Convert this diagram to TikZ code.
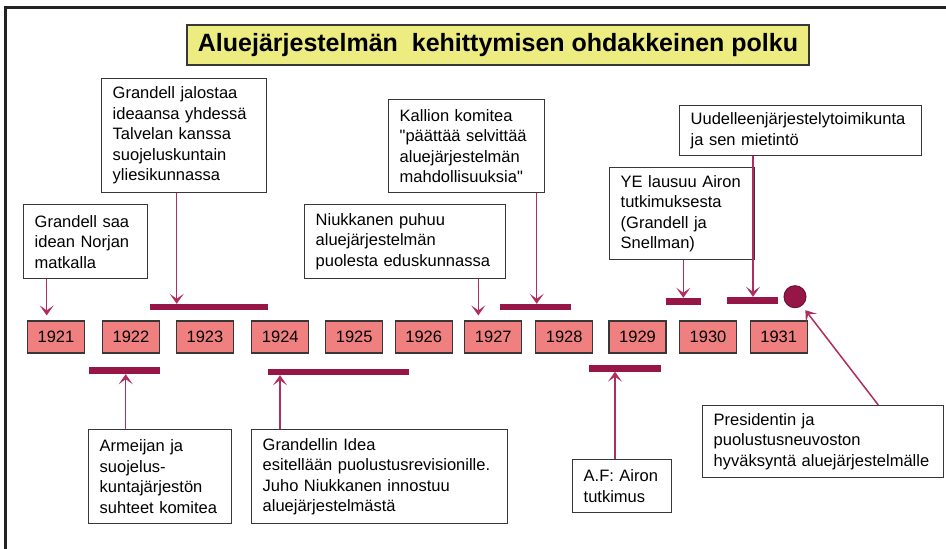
\documentclass[tikz,border=0pt]{standalone}
\usepackage{fontspec}
\setmainfont{Liberation Sans}
\usetikzlibrary{arrows.meta}
\definecolor{barc}{RGB}{150,22,72}
\definecolor{arrc}{RGB}{175,45,95}
\definecolor{yearc}{RGB}{240,128,128}
\definecolor{titlec}{RGB}{236,236,128}
\definecolor{edgec}{RGB}{55,55,55}
\definecolor{framec}{RGB}{35,35,35}
\begin{document}
\begin{tikzpicture}[x=1pt,y=-1pt,
 evbox/.style={draw=edgec, line width=1.4pt, fill=white, anchor=north west, align=left, inner xsep=11pt, inner ysep=3pt, font=\fontsize{16.5}{20.5}\selectfont},
 yearbox/.style={draw=edgec, line width=1.2pt, fill=yearc, minimum width=57pt, minimum height=32pt, inner sep=0pt, font=\fontsize{16.5}{19}\selectfont},
 barn/.style={fill=barc, draw=none, inner sep=0pt, minimum height=7pt},
 arr/.style={draw=arrc, line width=1.5pt, -{Stealth[length=10pt,width=14pt,inset=5pt]}},
]
\useasboundingbox (0,0) rectangle (946,549);
\draw[line width=3pt, color=framec] (5,549) -- (5,7.5) -- (946,7.5);

% title
\node[draw=edgec, line width=1.5pt, fill=titlec, minimum width=622pt, minimum height=40pt, inner sep=0pt,
      font=\bfseries\fontsize{25}{28}\selectfont] (title) at (498,45)
      {Aluejärjestelmän\ \ kehittymisen ohdakkeinen polku};

% years
\foreach \yr/\xx in {1921/56, 1922/131, 1923/205, 1924/280.3, 1925/354.2, 1926/423.7,
                     1927/493.3, 1928/564.2, 1929/637.5, 1930/708, 1931/778.7}
  \node[yearbox] (y\yr) at (\xx,337) {\yr};

% bars
\node[barn, minimum width=118pt, minimum height=6pt] (b1923) at (209,307) {};
\node[barn, minimum width=71pt, minimum height=6pt] (b1928) at (535.5,307) {};
\node[barn, minimum width=35pt] (b1930) at (683.5,301.5) {};
\node[barn, minimum width=51pt] (b1931) at (752.5,300.5) {};
\node[barn, minimum width=71pt] (b1922) at (124.5,370.5) {};
\node[barn, minimum width=141pt, minimum height=6pt] (b1924) at (338.5,372) {};
\node[barn, minimum width=72pt] (b1929) at (625,368) {};
\node[circle, fill=barc, draw=barc!75!black, line width=1pt, minimum size=22pt, inner sep=0pt] (circ) at (795,296.7) {};

% event boxes
\node[evbox, text width=102pt, minimum height=74pt] (A) at (23,204)
  {Grandell saa\\idean Norjan\\matkalla};
\node[evbox, text width=143pt, minimum height=114pt] (B) at (101,78)
  {Grandell jalostaa\\ideaansa yhdessä\\Talvelan kanssa\\suojeluskuntain\\yliesikunnassa};
\node[evbox, text width=179pt, minimum height=74pt] (C) at (304,204)
  {Niukkanen puhuu\\aluejärjestelmän\\puolesta eduskunnassa};
\node[evbox, text width=134pt, minimum height=93pt] (D) at (388,99)
  {Kallion komitea\\\textquotedbl päättää selvittää\\aluejärjestelmän\\mahdollisuuksia\textquotedbl};
\node[evbox, text width=123pt, minimum height=92pt] (E) at (609,167)
  {YE lausuu Airon\\tutkimuksesta\\(Grandell ja\\Snellman)};
\node[evbox, text width=220pt, minimum height=50pt] (F) at (679,105)
  {Uudelleenjärjestelytoimikunta\\ja sen mietintö};
\node[evbox, text width=121pt, minimum height=94pt] (G) at (88,429)
  {Armeijan ja\\suojelus-\\kuntajärjestön\\suhteet komitea};
\node[evbox, text width=234pt, minimum height=94pt] (H) at (251,429)
  {Grandellin Idea\\esitellään puolustusrevisionille.\\Juho Niukkanen innostuu\\aluejärjestelmästä};
\node[evbox, text width=77pt, minimum height=53pt] (I) at (572,459)
  {A.F: Airon\\tutkimus};
\node[evbox, text width=219pt, minimum height=72pt] (J) at (702,405)
  {Presidentin ja\\puolustusneuvoston\\hyväksyntä aluejärjestelmälle};

% arrow x positions
\coordinate (xA) at (46.7,0);
\coordinate (xB) at (176.7,0);
\coordinate (xC) at (478.3,0);
\coordinate (xD) at (536.7,0);
\coordinate (xE) at (683.3,0);
\coordinate (xF) at (753,0);
\coordinate (xG) at (125.7,0);
\coordinate (xH) at (280,0);
\coordinate (xI) at (615,0);
\coordinate (xJ) at (878.3,0);

\draw[arr, shorten >=5pt] (A.south -| xA) -- (y1921.north -| xA);
\draw[arr] (B.south -| xB) -- (b1923.north -| xB);
\draw[arr, shorten >=5pt] (C.south -| xC) -- (y1927.north -| xC);
\draw[arr] (D.south -| xD) -- (b1928.north -| xD);
\draw[arr] (E.south -| xE) -- (b1930.north -| xE);
\draw[arr] (F.south -| xF) -- (b1931.north -| xF);
\draw[arr] (G.north -| xG) -- (b1922.south -| xG);
\draw[arr] (H.north -| xH) -- (b1924.south -| xH);
\draw[arr] (I.north -| xI) -- (b1929.south -| xI);
\draw[arr, shorten >=17pt] (J.north -| xJ) -- (circ.center);
\end{tikzpicture}
\end{document}
